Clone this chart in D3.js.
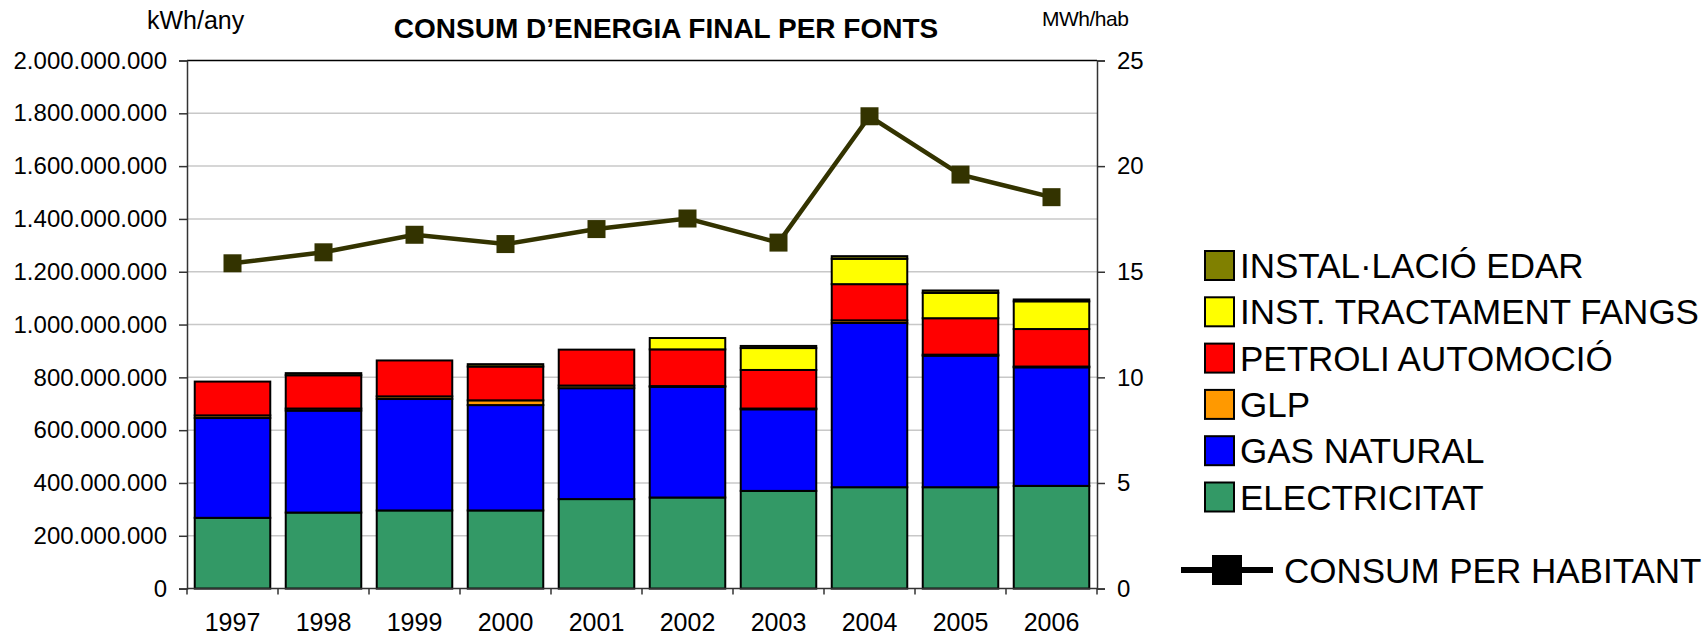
<!DOCTYPE html>
<html>
<head>
<meta charset="utf-8">
<script src="https://cdn.jsdelivr.net/npm/d3@7"></script>
<style>
  html, body { margin: 0; padding: 0; background: #fff; }
  svg { display: block; font-family: "Liberation Sans", Arial, sans-serif; }
</style>
</head>
<body>
<svg id="chart" width="1706" height="635"></svg>
<script>
// ---- data ----
const years = ["1997","1998","1999","2000","2001","2002","2003","2004","2005","2006"];
const electricitat = [268e6, 288e6, 296e6, 296e6, 339e6, 345e6, 370e6, 384e6, 384e6, 389e6];
const gasNatural   = [378e6, 386e6, 422e6, 399e6, 420e6, 419e6, 309e6, 622e6, 498e6, 449e6];
const glp          = [10e6, 8e6, 10e6, 18e6, 10e6, 3e6, 3e6, 10e6, 4e6, 3e6];
const petroli      = [128e6, 126e6, 136e6, 128e6, 136e6, 139e6, 146e6, 137e6, 138e6, 142e6];
const fangs        = [0, 0, 0, 0, 0, 43e6, 83e6, 96e6, 96e6, 105e6];
const edar         = [0, 8e6, 0, 9e6, 0, 0, 8e6, 10e6, 9e6, 7e6];
const perHabitant  = [15.40, 15.92, 16.75, 16.31, 17.02, 17.52, 16.38, 22.36, 19.60, 18.53];
const leftTicks  = [0, 200e6, 400e6, 600e6, 800e6, 1000e6, 1200e6, 1400e6, 1600e6, 1800e6, 2000e6];
const rightTicks = [0, 5, 10, 15, 20, 25];

const seriesKeys   = ["ELECTRICITAT", "GAS NATURAL", "GLP", "PETROLI AUTOMOCIÓ", "INST. TRACTAMENT FANGS", "INSTAL·LACIÓ EDAR"];
const seriesValues = [electricitat, gasNatural, glp, petroli, fangs, edar];
const seriesColors = ["#339966", "#0000ff", "#ff9900", "#ff0000", "#ffff00", "#808000"];

// ---- layout ----
const svg = d3.select("#chart");
const L = 187, R = 1097, T = 60.5, B = 588.6;
const fontFam = '"Liberation Sans", Arial, sans-serif';

const x = d3.scaleBand().domain(years).range([L, R]).paddingInner(0.17).paddingOuter(0.085);
const y = d3.scaleLinear().domain([0, 2e9]).range([B, T]);
const y2 = d3.scaleLinear().domain([0, 25]).range([B, T]);

const loc = d3.formatLocale({decimal: ",", thousands: ".", grouping: [3], currency: ["", ""]});
const fmt = loc.format(",");

// gridlines
svg.append("g").selectAll("line").data(leftTicks.filter(d => d > 0 && d < 2e9)).join("line")
  .attr("x1", L).attr("x2", R).attr("y1", d => y(d)).attr("y2", d => y(d))
  .attr("stroke", "#c8c8c8").attr("stroke-width", 1.5);

// stacked bars
const table = years.map((yr, i) => {
  const o = {year: yr};
  seriesKeys.forEach((k, j) => o[k] = seriesValues[j][i]);
  return o;
});
const stacked = d3.stack().keys(seriesKeys)(table);
const gBars = svg.append("g");
stacked.forEach((s, j) => {
  gBars.append("g").selectAll("rect").data(s).join("rect")
    .attr("x", d => x(d.data.year))
    .attr("width", x.bandwidth())
    .attr("y", d => y(d[1]))
    .attr("height", d => Math.max(0, y(d[0]) - y(d[1])))
    .attr("fill", seriesColors[j])
    .attr("stroke", "#000")
    .attr("stroke-width", d => (d[1] - d[0]) > 0 ? 2 : 0);
});

// plot frame
svg.append("line").attr("x1", L).attr("x2", R).attr("y1", T).attr("y2", T).attr("stroke", "#000").attr("stroke-width", 1.5);

// left axis
const axL = svg.append("g").attr("transform", `translate(${L},0)`)
  .call(d3.axisLeft(y).tickValues(leftTicks).tickFormat(fmt).tickSize(8).tickPadding(12));
// right axis
const axR = svg.append("g").attr("transform", `translate(${R},0)`)
  .call(d3.axisRight(y2).tickValues(rightTicks).tickSize(8).tickPadding(12));
// bottom axis
const axB = svg.append("g").attr("transform", `translate(0,${B})`)
  .call(d3.axisBottom(x).tickSize(0).tickPadding(25));
// category boundary ticks
svg.append("g").selectAll("line").data(d3.range(years.length + 1)).join("line")
  .attr("x1", i => L + i * x.step()).attr("x2", i => L + i * x.step())
  .attr("y1", B).attr("y2", B + 6).attr("stroke", "#333").attr("stroke-width", 1.5);

[axL, axR, axB].forEach(a => {
  a.selectAll("path.domain").attr("stroke", "#333").attr("stroke-width", 1.5);
  a.selectAll(".tick line").attr("stroke", "#333").attr("stroke-width", 1.5);
  a.selectAll("text").attr("font-family", fontFam).attr("font-size", 24).attr("fill", "#000");
});
axB.selectAll("text").attr("font-size", 25);
axB.select("path.domain").attr("d", `M${L},0H${R}`);

// per-habitant line
const cx = d => x(d.year) + x.bandwidth() / 2;
const linePts = years.map((yr, i) => ({year: yr, v: perHabitant[i]}));
svg.append("path").datum(linePts)
  .attr("fill", "none").attr("stroke", "#333300").attr("stroke-width", 4.5)
  .attr("d", d3.line().x(cx).y(d => y2(d.v)));
svg.append("g").selectAll("rect").data(linePts).join("rect")
  .attr("x", d => cx(d) - 9).attr("y", d => y2(d.v) - 9)
  .attr("width", 18).attr("height", 18).attr("fill", "#333300");

// titles
svg.append("text").attr("x", 666).attr("y", 38).attr("text-anchor", "middle")
  .attr("font-family", fontFam).attr("font-weight", "bold").attr("font-size", 28)
  .text("CONSUM D’ENERGIA FINAL PER FONTS");
svg.append("text").attr("x", 147).attr("y", 29)
  .attr("font-family", fontFam).attr("font-size", 25).text("kWh/any");
svg.append("text").attr("x", 1042).attr("y", 26)
  .attr("font-family", fontFam).attr("font-size", 21).attr("letter-spacing", -0.5).text("MWh/hab");

// legend
const legOrder = [5, 4, 3, 2, 1, 0];
const legY0 = 265.5, legStep = 46.3;
const leg = svg.append("g");
legOrder.forEach((j, k) => {
  const cy = legY0 + k * legStep;
  leg.append("rect").attr("x", 1205).attr("y", cy - 14.5).attr("width", 29).attr("height", 29)
    .attr("fill", seriesColors[j]).attr("stroke", "#000").attr("stroke-width", 2);
  leg.append("text").attr("x", 1240).attr("y", cy + 12.5)
    .attr("font-family", fontFam).attr("font-size", 35).text(seriesKeys[j]);
});
const lcy = 570;
leg.append("line").attr("x1", 1181).attr("x2", 1273).attr("y1", lcy).attr("y2", lcy)
  .attr("stroke", "#000").attr("stroke-width", 6);
leg.append("rect").attr("x", 1212).attr("y", lcy - 15).attr("width", 30).attr("height", 30).attr("fill", "#000");
leg.append("text").attr("x", 1284).attr("y", lcy + 12.5)
  .attr("font-family", fontFam).attr("font-size", 35).text("CONSUM PER HABITANT");
</script>
</body>
</html>
